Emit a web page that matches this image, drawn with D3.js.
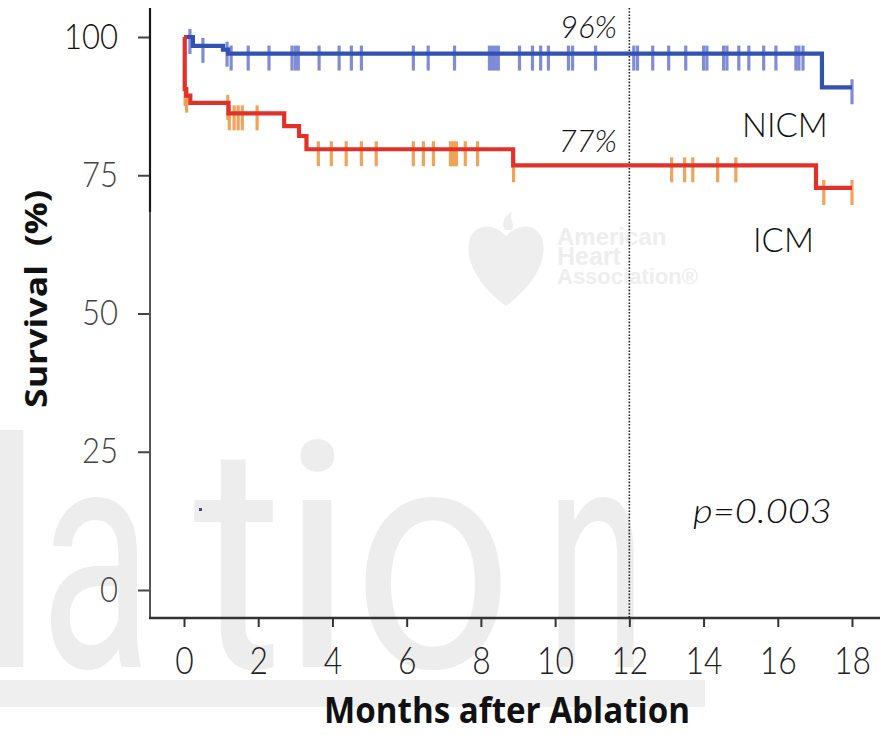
<!DOCTYPE html>
<html>
<head>
<meta charset="utf-8">
<script src="https://cdnjs.cloudflare.com/ajax/libs/d3/7.8.5/d3.min.js"></script>
<style>
  html, body { margin: 0; padding: 0; background: #fff; }
  svg { display: block; }
</style>
</head>
<body>
<div id="chart"></div>
<script>
(function () {
  'use strict';

  const W = 894, H = 735;
  const BLUE      = '#3152b3';
  const RED       = '#e0322a';
  const BLUE_MARK = '#7480d4';
  const RED_MARK  = '#f09a48';
  const NUM_FONT  = 'Lato, "Open Sans", sans-serif';
  const BOLD_FONT = '"Open Sans", "DejaVu Sans", sans-serif';

  const xTicks = [0, 2, 4, 6, 8, 10, 12, 14, 16, 18];
  const yTicks = [0, 25, 50, 75, 100];
  const endMonth = 18;
  const landmarkMonth = 12;

  // NICM: step times (months) and survival (%) after each step
  const nicmEventMonths = [0, 0.24, 1.05, 1.19, 17.19];
  const nicmSurvival    = [100, 98.4, 97.7, 97.0, 90.9];
  const nicmCensorMonths = [0.16, 0.51, 1.16, 1.27, 1.73, 2.29, 2.91, 3.0, 3.08, 3.64,
    4.18, 4.51, 4.78, 6.18, 6.58, 7.29, 8.23, 8.31, 8.39, 8.47, 9.04, 9.39, 9.61, 9.82,
    10.36, 10.47, 11.09, 12.12, 12.22, 12.63, 13.06, 13.52, 14.0, 14.09, 14.54, 14.63,
    14.95, 15.22, 15.62, 15.95, 16.49, 16.57, 16.68, 18.0];

  // ICM
  const icmEventMonths = [0, 0.02, 0.06, 0.17, 1.2, 2.7, 3.1, 3.3, 8.87, 17.03];
  const icmSurvival    = [100, 90.6, 89.4, 88.1, 86.2, 83.9, 82.1, 79.7, 76.8, 72.7];
  const icmCensorMonths = [0.03, 0.07, 1.18, 1.22, 1.35, 1.46, 1.57, 1.97, 3.62, 3.97,
    4.37, 4.78, 5.18, 6.18, 6.45, 6.72, 7.18, 7.26, 7.34, 7.58, 7.91, 8.88, 13.14,
    13.49, 13.71, 14.38, 14.87, 17.24, 18.0];

  const x = d3.scaleLinear().domain([0, 18]).range([184, 852]);
  const y = d3.scaleLinear().domain([0, 100]).range([590, 37]);

  const svg = d3.select('#chart').append('svg')
    .attr('width', W).attr('height', H)
    .attr('viewBox', `0 0 ${W} ${H}`);

  // Watermarks (background)
  const wm = svg.append('g').attr('fill', '#ededed')
    .attr('font-family', 'Roboto, "Open Sans", sans-serif').attr('font-weight', 400)
    .attr('font-size', 316).attr('text-anchor', 'middle');
  [['l', 9, 0], ['a', 96, 112], ['t', 238, 90], ['i', 317, 0], ['o', 433, 160], ['n', 596, 100]]
    .forEach(([ch, cx, len]) => {
      const t = wm.append('text').attr('x', cx).attr('y', 667).text(ch);
      if (len) t.attr('textLength', len).attr('lengthAdjust', 'spacingAndGlyphs');
    });
  svg.append('rect').attr('x', 0).attr('y', 680).attr('width', 705).attr('height', 27)
    .attr('fill', '#efefef');

  const aha = svg.append('g').attr('fill', '#eeeeee');
  aha.append('path')
    .attr('d', 'M506,306 C474,282 466,258 469,242 C472,226 490,220 506,236 C522,220 540,226 543,242 C546,258 538,282 506,306 Z');
  aha.append('path')
    .attr('d', 'M505,230 C500,222 506,214 512,212 C508,220 516,222 512,230 Z');
  [['American', 245, 24], ['Heart', 265, 25], ['Association\u00ae', 284, 22]].forEach(([t, yy, fs]) => {
    aha.append('text').attr('x', 557).attr('y', yy)
      .attr('font-family', '"Liberation Sans", Arial, sans-serif')
      .attr('font-weight', 700).attr('font-size', fs).text(t);
  });

  // Axes
  const yAxis = d3.axisLeft(y).tickValues(yTicks).tickSize(12).tickPadding(20).tickSizeOuter(0);
  const gy = svg.append('g').attr('transform', 'translate(150,0)').call(yAxis);
  gy.select('.domain').remove();
  gy.selectAll('.tick line').attr('stroke', '#444').attr('stroke-width', 2);
  gy.selectAll('.tick text')
    .attr('font-family', NUM_FONT).attr('font-weight', 300).attr('font-size', 35)
    .attr('fill', d => d === 100 ? '#111' : '#444')
    .attr('textLength', d => String(d).length * 18).attr('lengthAdjust', 'spacingAndGlyphs');

  const xAxis = d3.axisBottom(x).tickValues(xTicks).tickSize(9).tickPadding(21).tickSizeOuter(0);
  const gx = svg.append('g').attr('transform', 'translate(0,618)').call(xAxis);
  gx.select('.domain').remove();
  gx.selectAll('.tick line').attr('stroke', '#333').attr('stroke-width', 2);
  gx.selectAll('.tick text')
    .attr('font-family', NUM_FONT).attr('font-weight', 300).attr('font-size', 37)
    .attr('fill', '#222')
    .attr('textLength', d => String(d).length * 18.5).attr('lengthAdjust', 'spacingAndGlyphs');

  svg.append('line').attr('x1', 150).attr('x2', 150).attr('y1', 8).attr('y2', 212)
    .attr('stroke', '#1a1a1a').attr('stroke-width', 2.2);
  svg.append('line').attr('x1', 150).attr('x2', 150).attr('y1', 212).attr('y2', 619)
    .attr('stroke', '#555').attr('stroke-width', 2);
  svg.append('line').attr('x1', 149).attr('x2', 880).attr('y1', 618).attr('y2', 618)
    .attr('stroke', '#333').attr('stroke-width', 2.5);

  // 12 month landmark
  svg.append('line')
    .attr('x1', x(landmarkMonth)).attr('x2', x(landmarkMonth))
    .attr('y1', 8).attr('y2', 618)
    .attr('stroke', '#222').attr('stroke-width', 1.6)
    .attr('stroke-dasharray', '1.6,1.6');

  function levelAt(times, surv, t) {
    let v = surv[0];
    times.forEach((tt, i) => { if (tt <= t) v = surv[i]; });
    return v;
  }

  function stepPoints(times, surv) {
    const pts = times.map((t, i) => [t, surv[i]]);
    pts.push([endMonth, surv[surv.length - 1]]);
    return pts;
  }

  const line = d3.line().x(d => x(d[0])).y(d => y(d[1])).curve(d3.curveStepAfter);

  function drawMarks(times, surv, censor, color) {
    svg.append('g').selectAll('line')
      .data(censor)
      .join('line')
      .attr('x1', d => x(d)).attr('x2', d => x(d))
      .attr('y1', d => y(levelAt(times, surv, d)) - 8)
      .attr('y2', d => y(levelAt(times, surv, d)) + 17)
      .attr('stroke', color).attr('stroke-width', 3.2).attr('opacity', 0.9);
  }

  drawMarks(nicmEventMonths, nicmSurvival, nicmCensorMonths, BLUE_MARK);
  drawMarks(icmEventMonths, icmSurvival, icmCensorMonths, RED_MARK);

  svg.append('path').datum(stepPoints(nicmEventMonths, nicmSurvival))
    .attr('d', line).attr('fill', 'none').attr('stroke', BLUE).attr('stroke-width', 4.2);
  svg.append('path').datum(stepPoints(icmEventMonths, icmSurvival))
    .attr('d', line).attr('fill', 'none').attr('stroke', RED).attr('stroke-width', 4.2);

  // stray dot in the original
  svg.append('rect').attr('x', 199).attr('y', 508).attr('width', 3).attr('height', 3).attr('fill', '#4a4a6a');

  // Annotations
  const ann = (txt, xx, yy, fs, italic, anchor, len) => {
    const t = svg.append('text')
      .attr('x', xx).attr('y', yy)
      .attr('font-family', NUM_FONT).attr('font-weight', 300)
      .attr('font-size', fs).attr('font-style', italic ? 'italic' : 'normal')
      .attr('text-anchor', anchor || 'start').attr('fill', '#111')
      .text(txt);
    if (len) t.attr('textLength', len).attr('lengthAdjust', 'spacingAndGlyphs');
    return t;
  };

  ann('96%', 617, 38, 31, true, 'end');
  ann('77%', 617, 152, 31, true, 'end');
  ann('NICM', 742, 137, 33, false);
  ann('ICM', 753, 252, 33, false);
  ann('p=0.003', 693, 523, 33, true, 'start', 139);

  svg.append('text')
    .attr('transform', 'translate(47,299) rotate(-90)')
    .attr('text-anchor', 'middle')
    .attr('font-family', BOLD_FONT).attr('font-weight', 700).attr('font-size', 31)
    .attr('fill', '#111').style('white-space', 'pre')
    .attr('textLength', 218).attr('lengthAdjust', 'spacingAndGlyphs')
    .text('Survival  (%)');

  svg.append('text')
    .attr('x', 507).attr('y', 723)
    .attr('text-anchor', 'middle')
    .attr('font-family', BOLD_FONT).attr('font-weight', 700).attr('font-size', 36)
    .attr('fill', '#111')
    .attr('textLength', 366).attr('lengthAdjust', 'spacingAndGlyphs')
    .text('Months after Ablation');
})();
</script>
</body>
</html>
